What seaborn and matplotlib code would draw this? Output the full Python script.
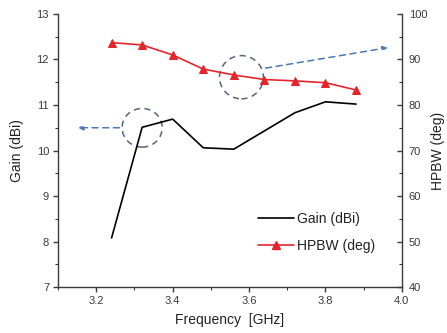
import matplotlib
matplotlib.use("Agg")
import matplotlib.pyplot as plt
from matplotlib.patches import Ellipse
from matplotlib.lines import Line2D
import seaborn as sns
import pandas as pd

freq = [3.24, 3.32, 3.40, 3.48, 3.56, 3.64, 3.72, 3.80, 3.88]
gain = [8.08, 10.51, 10.69, 10.06, 10.03, 10.43, 10.83, 11.07, 11.02]
hpbw = [93.7, 93.2, 91.0, 87.9, 86.6, 85.6, 85.3, 84.9, 83.3]

sns.set_style("ticks")
plt.rcParams['font.family'] = ['Liberation Sans', 'DejaVu Sans']

df = pd.DataFrame({"freq": freq, "gain": gain, "hpbw": hpbw})

fig = plt.figure(figsize=(4.47, 3.33), dpi=100)
ax = fig.add_axes([0.130, 0.138, 0.769, 0.820])
ax2 = ax.twinx()

red = "#e3262b"
sns.lineplot(data=df, x="freq", y="gain", ax=ax, color="black", linewidth=1.2)
sns.lineplot(data=df, x="freq", y="hpbw", ax=ax2, color=red, linewidth=1.2,
             marker="^", markersize=6, markeredgecolor=red)

ax.set_xlim(3.1, 4.0)
ax.set_ylim(7, 13)
ax2.set_ylim(40, 100)
ax.set_xticks([3.2, 3.4, 3.6, 3.8, 4.0])
ax.set_xticks([3.1, 3.3, 3.5, 3.7, 3.9], minor=True)
ax.set_yticks(range(7, 14))
ax.set_yticks([7.5, 8.5, 9.5, 10.5, 11.5, 12.5], minor=True)
ax2.set_yticks(range(40, 101, 10))
ax2.set_yticks(range(45, 100, 10), minor=True)

tc = "#3a3a3a"
for a, d in ((ax, 'out'), (ax2, 'in')):
    a.spines['top'].set_visible(False)
    for s in a.spines.values():
        s.set_linewidth(1.0)
        s.set_color(tc)
    a.tick_params(which='major', length=3.5, width=1.0, labelsize=8, colors=tc, direction=d, pad=3)
    a.tick_params(which='minor', length=2.2, width=0.8, colors=tc, direction=d)
ax2.tick_params(which='major', pad=5)
ax2.spines['left'].set_visible(False)
ax2.spines['bottom'].set_visible(False)
ax.spines['right'].set_visible(False)

ax.set_xlabel("Frequency  [GHz]", fontsize=10, color="#222222", labelpad=5)
ax.set_ylabel("Gain (dBi)", fontsize=10, color="#222222", labelpad=9)
ax2.set_ylabel("HPBW (deg)", fontsize=10, color="#222222", labelpad=3)
ax.set_xticklabels(["3.2", "3.4", "3.6", "3.8", "4.0"])

# annotations
ec = "#55657c"
e1 = Ellipse((3.32, 10.5), 0.105, 0.85, fill=False, ls=(0, (4, 3)), ec=ec, lw=1.1, transform=ax.transData)
ax.add_patch(e1)
e2 = Ellipse((3.58, 86.1), 0.115, 9.5, fill=False, ls=(0, (4, 3)), ec=ec, lw=1.1, transform=ax2.transData)
ax2.add_patch(e2)
arrow_c = "#4a78b5"
ax.annotate("", xy=(3.145, 10.5), xytext=(3.268, 10.5),
            arrowprops=dict(arrowstyle="-|>", ls=(0, (4, 3)), color=arrow_c, lw=1.1, mutation_scale=7))
ax2.annotate("", xy=(3.97, 92.7), xytext=(3.636, 88.0),
             arrowprops=dict(arrowstyle="-|>", ls=(0, (4, 3)), color=arrow_c, lw=1.1, mutation_scale=7))

handles = [Line2D([], [], color="black", lw=1.2),
           Line2D([], [], color=red, lw=1.2, marker="^", markersize=6)]
leg = ax2.legend(handles, ["Gain (dBi)", "HPBW (deg)"], loc="upper left",
                 bbox_to_anchor=(258 / 447, 1 - 212 / 333), bbox_transform=fig.transFigure,
                 borderaxespad=0, borderpad=0, frameon=False, fontsize=10,
                 handlelength=2.6, handletextpad=0.2, labelspacing=0.95)
for t in leg.get_texts():
    t.set_color("#222222")

fig.savefig("out.png", dpi=100)
